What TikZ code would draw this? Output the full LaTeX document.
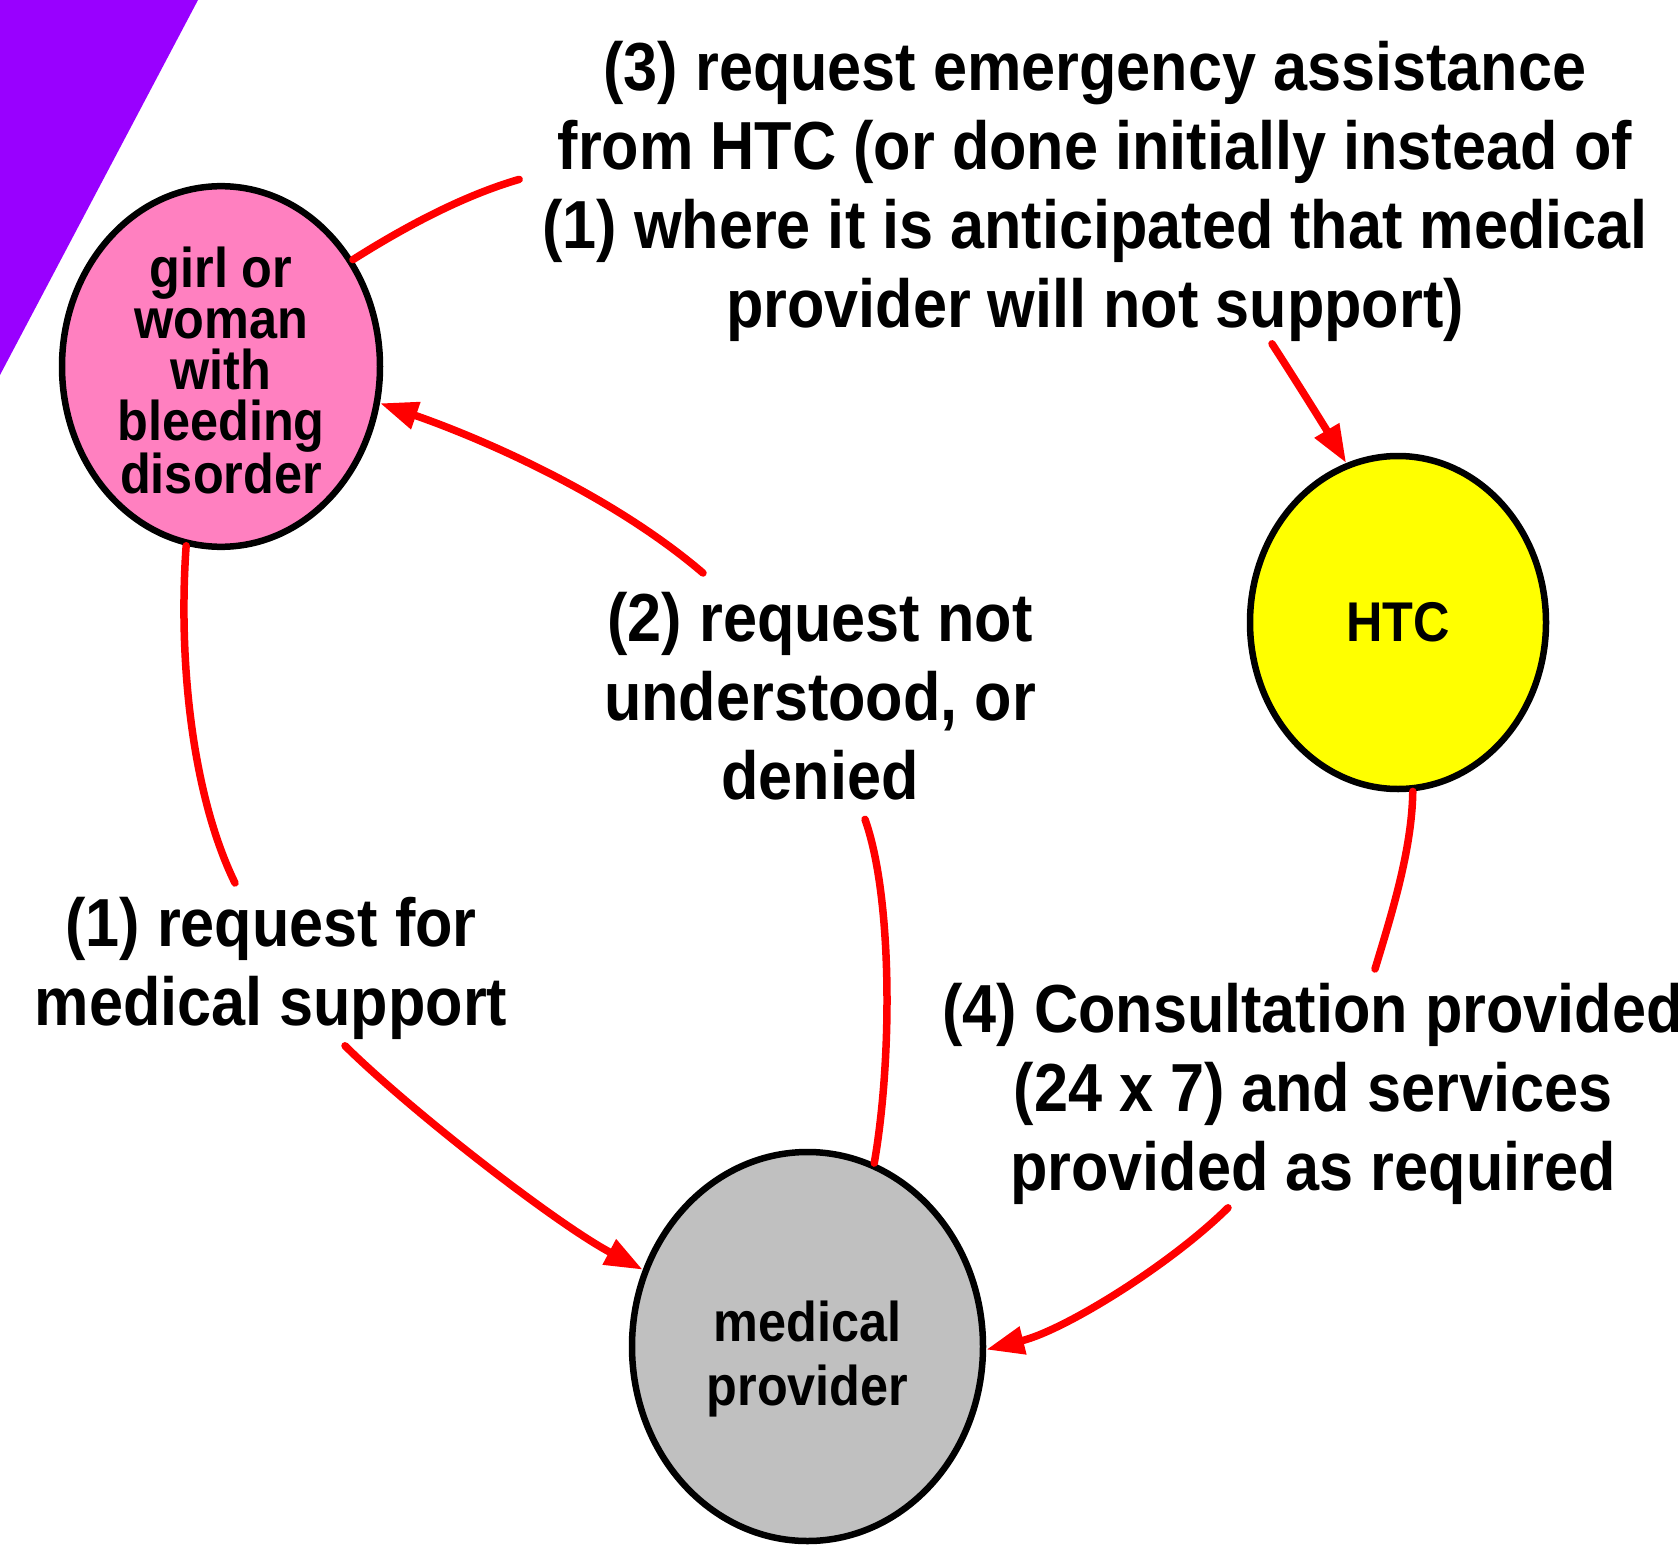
\documentclass[tikz,border=0pt]{standalone}
\usepackage{fontspec}
\newfontfamily\condsans{Liberation Sans}[FakeStretch=0.9]
\usetikzlibrary{shapes.geometric,arrows.meta,calc}
\definecolor{cornerviolet}{RGB}{153,0,255}
\definecolor{girlpink}{RGB}{255,128,192}
\definecolor{htcyellow}{RGB}{255,255,0}
\definecolor{medgrey}{RGB}{192,192,192}

\begin{document}
\begin{tikzpicture}[x=1pt, y=-1pt,
    bubble/.style={draw, line width=6.5pt, ellipse, inner sep=0pt, align=center,
        font=\condsans\bfseries\fontsize{56pt}{51pt}\selectfont},
    note/.style={inner sep=0pt, align=center,
        font=\condsans\bfseries\fontsize{68pt}{79pt}\selectfont},
    link/.style={draw=red, line width=7.5pt, line cap=round},
    pointed/.style={-{Triangle[length=38pt,width=27pt]}}]
    % Frame
    \fill[white] (0,0) rectangle (1678,1546);
    \useasboundingbox (0,0) rectangle (1678,1546);
    \fill[cornerviolet] (0,0) -- (198,0) -- (0,375) -- cycle;

    % Parties
    \node[bubble, fill=girlpink, minimum width=318pt, minimum height=359pt] (girl) at (221,366.5)
        {girl or\rule{0pt}{48pt}\\woman\\with\\bleeding\\disorder};
    \node[bubble, fill=htcyellow, minimum width=296pt, minimum height=333pt] (htc) at (1398,622.5) {HTC};
    \node[bubble, fill=medgrey, minimum width=351pt, minimum height=389pt,
        font=\condsans\bfseries\fontsize{56pt}{64pt}\selectfont] (medic) at (807.5,1346.5)
        {medical\rule{0pt}{65pt}\\provider};

    % Steps
    \node[note, anchor=north] (note1) at (271,897) {(1) request for\\medical support};
    \node[note, anchor=north] (note2) at (820,592) {(2) request not\\understood, or\\denied};
    \node[note, anchor=north] (note3) at (1095,41)
        {(3) request emergency assistance\\from HTC (or done initially instead of\\(1) where it is anticipated that medical\\provider will not support)};
    \node[note, anchor=north] (note4) at (1313,983)
        {(4) Consultation provided\\(24 x 7) and services\\provided as required};

    % Step 1
    \draw[link] (girl.259) .. controls (178,660) and (192,795) .. ($(note1.north)+(-36,-14)$);
    \draw[link, pointed] ($(note1.south)+(74,6)$) .. controls (410,1110) and (555,1223) .. (medic.155);

    % Step 2
    \draw[link] (medic.70.5) .. controls (893,1055) and (892,895) .. ($(note2.south)+(45,19)$);
    \draw[link, pointed] ($(note2.north)+(-117,-19)$) .. controls (612,495) and (483,439) .. (girl.347);

    % Step 3
    \draw[link] (girl.39) .. controls (403,228) and (462,196) .. ($(note3.west)+(-23,-12)$);
    \draw[link, pointed] ($(note3.south)+(177,2)$) .. controls (1293,376) and (1326,429) .. (htc.108);

    % Step 4
    \draw[link] (htc.275) .. controls (1412,850) and (1391,916) .. ($(note4.north)+(62,-14)$);
    \draw[link, pointed] ($(note4.south)+(-85,3)$) .. controls (1170,1265) and (1065,1330) .. (medic.359);
\end{tikzpicture}
\end{document}
